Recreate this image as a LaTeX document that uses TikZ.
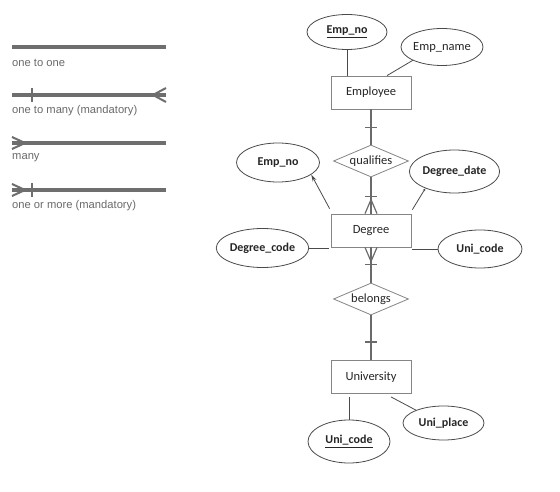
\documentclass[tikz,border=0pt]{standalone}
\usepackage{fontspec}
\setmainfont{Carlito}
\newfontfamily\legfont{Liberation Sans}
\usetikzlibrary{shapes.geometric,arrows.meta,calc}
\definecolor{legc}{HTML}{6E6E6E}
\definecolor{legt}{HTML}{6A6A6A}
\definecolor{relc}{HTML}{6A6A6A}
\definecolor{edgec}{HTML}{4A4A4A}
\definecolor{boxc}{HTML}{858585}
\definecolor{txtc}{HTML}{262626}
\tikzset{
  entity/.style={draw=boxc, line width=0.8pt, minimum width=80pt, minimum height=33pt, inner sep=0pt, font=\fontsize{12.5}{14}\selectfont, text=txtc},
  attr/.style={ellipse, draw=edgec, line width=0.8pt, inner sep=0pt, font=\fontsize{12}{14}\selectfont\bfseries, text=txtc},
  relship/.style={diamond, draw=boxc, line width=0.8pt, inner sep=0pt, minimum width=75pt, minimum height=32pt, aspect=2.3, font=\fontsize{12.5}{14}\selectfont, text=txtc},
  relline/.style={draw=relc, line width=2.2pt},
  tickline/.style={draw=relc, line width=1.5pt},
  crowline/.style={draw=relc, line width=1.2pt},
  conn/.style={draw=edgec, line width=0.8pt},
  legline/.style={draw=legc, line width=4pt},
  legfoot/.style={draw=legc, line width=2pt},
  legtext/.style={anchor=west, font=\legfont\fontsize{11.2}{13}\selectfont, text=legt, inner sep=0pt},
}
\begin{document}
\begin{tikzpicture}[x=1pt,y=-1pt]
\useasboundingbox[fill=white] (0,0) rectangle (560,492);

% ---------- legend ----------
\coordinate (l1a) at (12,47);  \coordinate (l1b) at (166,47);
\coordinate (l2a) at (12,95);  \coordinate (l2b) at (166,95);
\coordinate (l3a) at (12,143); \coordinate (l3b) at (166,143);
\coordinate (l4a) at (12,190); \coordinate (l4b) at (166,190);
\draw[legline] (l1a) -- (l1b);
\draw[legline] (l2a) -- (l2b);
\draw[legline] (l3a) -- (l3b);
\draw[legline] (l4a) -- (l4b);
% one to many
\draw[legfoot] ([xshift=20pt,yshift=7pt]l2a) -- ([xshift=20pt,yshift=-7pt]l2a);
\draw[legfoot] ([yshift=7pt]l2b) -- ([xshift=-13pt]l2b) -- ([yshift=-7pt]l2b);
% many
\draw[legfoot] ([yshift=6pt]l3a) -- ([xshift=13pt]l3a) -- ([yshift=-6pt]l3a);
% one or more
\draw[legfoot] ([yshift=6pt]l4a) -- ([xshift=13pt]l4a) -- ([yshift=-6pt]l4a);
\draw[legfoot] ([xshift=20pt,yshift=7pt]l4a) -- ([xshift=20pt,yshift=-7pt]l4a);
\node[legtext] (t1) at (12,63) {one to one};
\node[legtext] (t2) at (12,111) {one to many (mandatory)};
\node[legtext] (t3) at (12,158) {many};
\node[legtext] (t4) at (12,206) {one or more (mandatory)};

% ---------- entities & relationships ----------
\node[entity] (emp) at (371,92.5) {Employee};
\node[entity] (deg) at (371,230.5) {Degree};
\node[entity] (uni) at (371,377) {University};
\node[relship] (q) at (371,161) {qualifies};
\node[relship] (b) at (371,299) {belongs};

% ---------- attributes ----------
\node[attr, minimum width=80pt, minimum height=35pt] (empno1) at (347,32) {\underline{Emp\_no}};
\node[attr, font=\fontsize{12.5}{14}\selectfont, minimum width=82pt, minimum height=37pt] (empname) at (442,47) {Emp\_name};
\node[attr, minimum width=83pt, minimum height=39pt] (empno2) at (278,162.5) {Emp\_no};
\node[attr, minimum width=83pt, minimum height=43pt] (ddate) at (454.5,171.5) {Degree\_date};
\node[attr, minimum width=85pt, minimum height=39pt] (degcode) at (262.5,248) {Degree\_code};
\node[attr, minimum width=84pt, minimum height=38pt] (unicode2) at (480,249) {Uni\_code};
\node[attr, minimum width=82pt, minimum height=43pt] (unicode) at (349,441.5) {\underline{Uni\_code}};
\node[attr, minimum width=81pt, minimum height=34pt] (uniplace) at (443.5,423) {Uni\_place};

% ---------- attribute connectors ----------
\draw[conn] (empno1.south) -- (empno1.south |- emp.north);
\draw[conn] (empname.south west) -- ([xshift=16pt]emp.north);
\draw[conn, -{Stealth[open, length=7pt, width=4pt]}] ([xshift=-1pt,yshift=5pt]deg.north west) -- (empno2.-20);
\draw[conn, -{Stealth[length=3pt, width=2.5pt]}] ([xshift=1pt,yshift=4pt]deg.north east) -- (ddate.210);
\draw[conn] (degcode.east) -- ([xshift=-2pt]degcode.east -| deg.west);
\draw[conn] (unicode2.west) -- ([xshift=1pt]unicode2.west -| deg.east);
\draw[conn] (unicode.north) -- ([yshift=-3pt]unicode.north |- uni.south);
\draw[conn] ([xshift=20pt,yshift=-3pt]uni.south) -- (uniplace.155);

% ---------- relationship lines ----------
\draw[relline] (emp.south) -- (q.north);
\draw[tickline] ([xshift=-6pt,yshift=-18pt]emp.south) -- ([xshift=6pt,yshift=-18pt]emp.south);

\draw[relline] (q.south) -- (deg.north);
\draw[tickline] ([xshift=-6pt,yshift=17pt]deg.north) -- ([xshift=6pt,yshift=17pt]deg.north);
\draw[crowline] ([xshift=-6pt]deg.north) -- ([yshift=14pt]deg.north) -- ([xshift=6pt]deg.north);

\draw[relline] (deg.south) -- (b.north);
\draw[crowline] ([xshift=-6pt]deg.south) -- ([yshift=-14pt]deg.south) -- ([xshift=6pt]deg.south);
\draw[tickline] ([xshift=-6pt,yshift=-17pt]deg.south) -- ([xshift=6pt,yshift=-17pt]deg.south);

\draw[relline] (b.south) -- (uni.north);
\draw[tickline] ([xshift=-6pt,yshift=18pt]uni.north) -- ([xshift=6pt,yshift=18pt]uni.north);
\end{tikzpicture}
\end{document}
